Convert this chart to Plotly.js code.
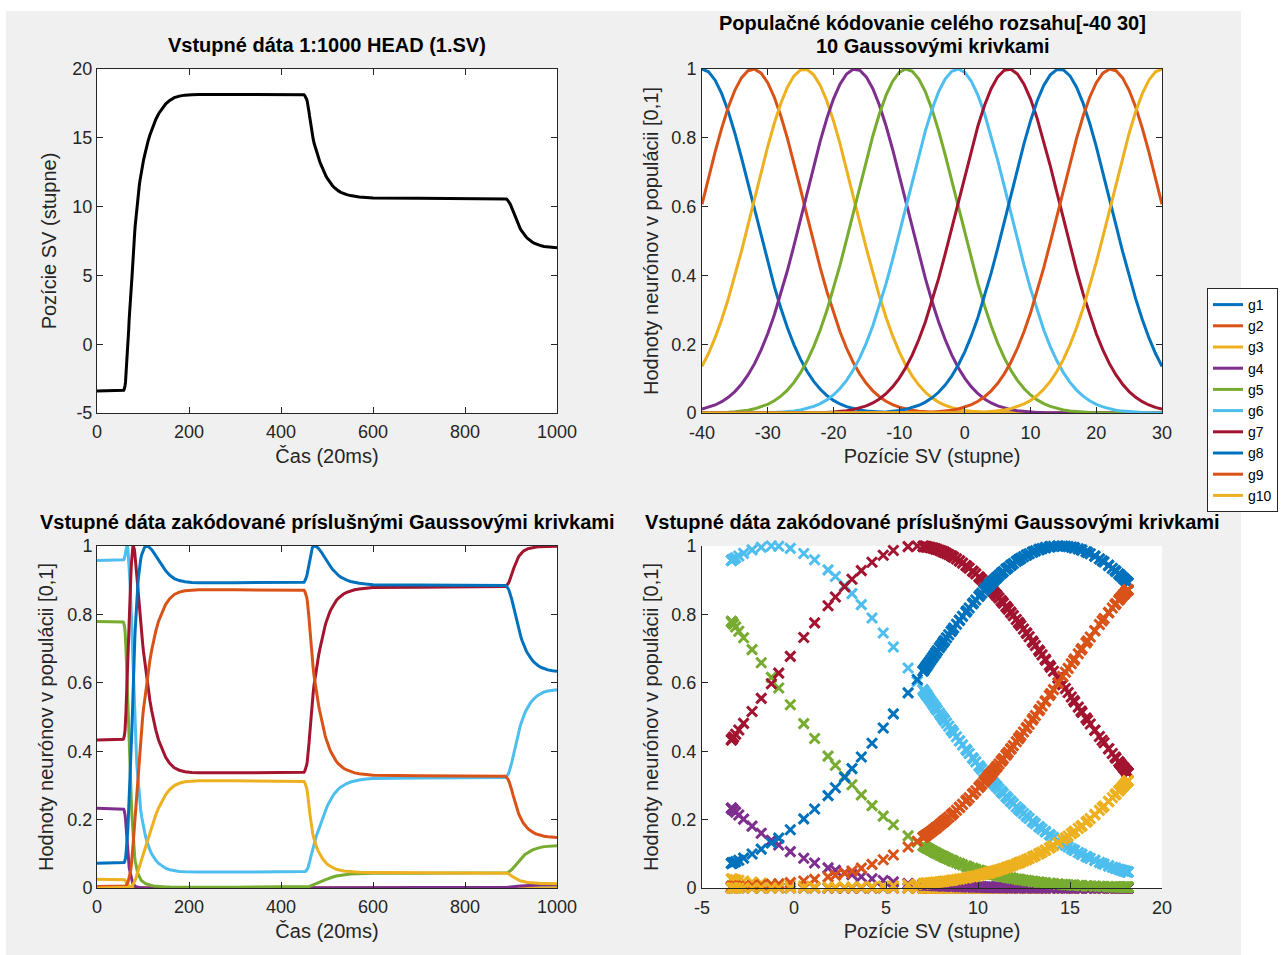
<!DOCTYPE html>
<html>
<head>
<meta charset="utf-8">
<script src="https://cdn.plot.ly/plotly-3.0.1.min.js"></script>
<style>
html,body{margin:0;padding:0;background:#ffffff;}
#chart{width:1287px;height:955px;}
</style>
</head>
<body>
<div id="chart"></div>
<script>
// ---- data ----
// head position signal (time in 20 ms samples, position in degrees)
const headTime = [0, 20, 40, 57, 58,
  59, 60, 61, 62, 63, 64, 65, 66, 67, 68, 69, 70, 71, 72, 73, 74, 75, 76, 77, 78, 79,
  80, 81, 82, 83, 84, 85, 86, 87, 88, 89, 90, 91, 92, 93,
  95, 97, 99, 101, 103, 105, 108, 111, 115, 119, 123, 128, 134, 141, 149, 158, 168, 179, 191, 206, 221, 300, 380, 448,
  450, 452, 454,
  455, 456, 457, 458, 459, 460, 461, 462, 463, 464, 465, 466, 467, 468, 469, 470,
  472, 474, 476, 478, 480, 482, 484, 486, 488, 490, 492, 494, 496, 498, 500,
  503, 506, 509, 512, 516, 520, 525, 530, 536, 543, 551, 560, 570, 585, 600, 700, 800, 886,
  888, 890, 892, 894, 896, 898, 900, 902, 904, 906, 908, 910, 912, 914, 916, 918, 920, 922, 924, 926, 928, 930,
  933, 936, 939, 942, 946, 950, 955, 960, 966, 972, 980, 990, 1000];
const headPosition = [-3.40, -3.39, -3.38, -3.37, -3.34,
  -3.28, -3.17, -3.0, -2.74, -2.28, -1.78, -1.23, -0.83, -0.2, 0.53, 1.12, 1.85, 2.25, 2.75, 3.15, 3.66, 4.24, 4.85, 5.4, 6.2, 6.7,
  7.2, 7.7, 8.15, 8.6, 9.0, 9.4, 9.75, 10.1, 10.4, 10.7, 11.0, 11.3, 11.55, 11.8,
  12.25, 12.65, 13.0, 13.35, 13.65, 13.95, 14.35, 14.75, 15.2, 15.6, 15.95, 16.35, 16.75, 17.1, 17.45, 17.72, 17.92, 18.03, 18.1, 18.13, 18.15, 18.15, 18.15, 18.15,
  18.12, 18.05, 17.95,
  17.87, 17.78, 17.65, 17.5, 17.3, 17.1, 16.85, 16.6, 16.35, 16.1, 15.87, 15.65, 15.45, 15.25, 15.07, 14.9,
  14.6, 14.35, 14.1, 13.88, 13.68, 13.48, 13.3, 13.12, 12.95, 12.78, 12.62, 12.47, 12.33, 12.2, 12.08,
  11.92, 11.77, 11.64, 11.52, 11.38, 11.26, 11.14, 11.04, 10.95, 10.87, 10.8, 10.74, 10.7, 10.66, 10.63, 10.61, 10.6, 10.6,
  10.58, 10.55, 10.5, 10.42, 10.32, 10.2, 10.05, 9.88, 9.7, 9.52, 9.34, 9.16, 8.99, 8.83, 8.68, 8.54, 8.41, 8.29, 8.18, 8.08, 7.99, 7.9,
  7.79, 7.69, 7.6, 7.52, 7.43, 7.35, 7.27, 7.21, 7.15, 7.1, 7.06, 7.03, 7.01];

// population code: 10 Gaussian tuning curves covering [-40 30]
const neuronNames = ['g1', 'g2', 'g3', 'g4', 'g5', 'g6', 'g7', 'g8', 'g9', 'g10'];
const neuronCenters = [-40, -32.22, -24.44, -16.67, -8.89, -1.11, 6.67, 14.44, 22.22, 30];
const neuronWidth = 7.78;
const tuningAxis = [-40, -39, -38, -37, -36, -35, -34, -33, -32, -31, -30, -29, -28, -27, -26, -25, -24, -23, -22, -21,
  -20, -19, -18, -17, -16, -15, -14, -13, -12, -11, -10, -9, -8, -7, -6, -5, -4, -3, -2, -1,
  0, 1, 2, 3, 4, 5, 6, 7, 8, 9, 10, 11, 12, 13, 14, 15, 16, 17, 18, 19, 20, 21, 22, 23, 24, 25, 26, 27, 28, 29, 30];

// tick values and labels
const timeTicks = [0, 200, 400, 600, 800, 1000];
const timeTickText = ['0', '200', '400', '600', '800', '1000'];
const headTicks = [-5, 0, 5, 10, 15, 20];
const headTickText = ['-5', '0', '5', '10', '15', '20'];
const rangeTicks = [-40, -30, -20, -10, 0, 10, 20, 30];
const rangeTickText = ['-40', '-30', '-20', '-10', '0', '10', '20', '30'];
const unitTicks = [0, 0.2, 0.4, 0.6, 0.8, 1];
const unitTickText = ['0', '0.2', '0.4', '0.6', '0.8', '1'];

// ---- styling ----
const neuronColors = ['#0072BD', '#D95319', '#EDB120', '#7E2F8E', '#77AC30', '#4DBEEE', '#A2142F', '#0072BD', '#D95319', '#EDB120'];
const W = 1287, H = 955;
const FONT = 'Liberation Sans, Arial, Helvetica, sans-serif';
const AX = '#262626';

function tuning(center, x) {
  const d = x - center;
  return Math.exp(-(d * d) / (2 * neuronWidth * neuronWidth));
}

const traces = [];
traces.push({
  x: headTime, y: headPosition, xaxis: 'x', yaxis: 'y', mode: 'lines',
  line: {color: '#000000', width: 3}, showlegend: false, hoverinfo: 'skip'
});
neuronCenters.forEach((c, i) => {
  traces.push({
    x: tuningAxis, y: tuningAxis.map(v => tuning(c, v)), xaxis: 'x2', yaxis: 'y2',
    mode: 'lines', name: neuronNames[i], line: {color: neuronColors[i], width: 3},
    showlegend: true
  });
});
neuronCenters.forEach((c, i) => {
  traces.push({
    x: headTime, y: headPosition.map(p => tuning(c, p)), xaxis: 'x3', yaxis: 'y3',
    mode: 'lines', name: neuronNames[i], line: {color: neuronColors[i], width: 3},
    showlegend: false
  });
});
neuronCenters.forEach((c, i) => {
  traces.push({
    x: headPosition, y: headPosition.map(p => tuning(c, p)), xaxis: 'x4', yaxis: 'y4',
    mode: 'markers', name: neuronNames[i], cliponaxis: false,
    marker: {symbol: 'x-thin', size: 10, color: neuronColors[i], line: {color: neuronColors[i], width: 3}},
    showlegend: false
  });
});

function ax(extra) {
  return Object.assign({
    showline: true, linecolor: AX, linewidth: 1, ticks: 'inside', ticklen: 6, tickwidth: 1, tickcolor: AX,
    showgrid: false, zeroline: false, mirror: 'ticks', fixedrange: true, tickmode: 'array',
    tickfont: {family: FONT, size: 18, color: AX}
  }, extra);
}
function ttl(text, standoff) {
  return {text: text, font: {family: FONT, size: 20, color: AX}, standoff: standoff};
}

const xL = [97 / W, 557 / W], xR = [702 / W, 1162 / W];
const yT = [1 - 413 / H, 1 - 69 / H], yB = [1 - 888 / H, 1 - 546 / H];

function title(text, xpx, ypx) {
  return {text: '<b>' + text + '</b>', x: xpx / W, y: 1 - ypx / H, xref: 'paper', yref: 'paper',
    xanchor: 'center', yanchor: 'middle', showarrow: false, font: {family: FONT, size: 20, color: '#000000'}};
}

const layout = {
  width: W, height: H, margin: {l: 0, r: 0, t: 0, b: 0},
  paper_bgcolor: '#f0f0f0', plot_bgcolor: '#ffffff',
  font: {family: FONT, size: 18, color: AX},
  showlegend: true,
  legend: {x: 1207 / W, y: 1 - 288 / H, xanchor: 'left', yanchor: 'top', bgcolor: '#ffffff',
    bordercolor: AX, borderwidth: 1, font: {family: FONT, size: 14, color: '#000000'}},
  xaxis: ax({domain: xL, anchor: 'y', range: [0, 1000], tickvals: timeTicks, ticktext: timeTickText, ticklabelstandoff: 2, title: ttl('Čas (20ms)', 8)}),
  yaxis: ax({domain: yT, anchor: 'x', range: [-5, 20], tickvals: headTicks, ticktext: headTickText, title: ttl('Pozície SV (stupne)', 10)}),
  xaxis2: ax({domain: xR, anchor: 'y2', range: [-40, 30], tickvals: rangeTicks, ticktext: rangeTickText, ticklabelstandoff: 3, title: ttl('Pozície SV (stupne)', 7)}),
  yaxis2: ax({domain: yT, anchor: 'x2', range: [0, 1], tickvals: unitTicks, ticktext: unitTickText, ticklabelstandoff: 1, title: ttl('Hodnoty neurónov v populácii [0,1]', 7)}),
  xaxis3: ax({domain: xL, anchor: 'y3', range: [0, 1000], tickvals: timeTicks, ticktext: timeTickText, ticklabelstandoff: 2, title: ttl('Čas (20ms)', 8)}),
  yaxis3: ax({domain: yB, anchor: 'x3', range: [0, 1], tickvals: unitTicks, ticktext: unitTickText, title: ttl('Hodnoty neurónov v populácii [0,1]', 8)}),
  xaxis4: ax({domain: xR, anchor: 'y4', range: [-5, 20], tickvals: headTicks, ticktext: headTickText, ticklabelstandoff: 3, mirror: false, title: ttl('Pozície SV (stupne)', 7)}),
  yaxis4: ax({domain: yB, anchor: 'x4', range: [0, 1], tickvals: unitTicks, ticktext: unitTickText, ticklabelstandoff: 1, mirror: false, title: ttl('Hodnoty neurónov v populácii [0,1]', 7)}),
  shapes: [
    {type: 'rect', xref: 'paper', yref: 'paper', x0: 0, x1: 1, y0: 1 - 11 / H, y1: 1, fillcolor: '#ffffff', line: {width: 0}, layer: 'below'},
    {type: 'rect', xref: 'paper', yref: 'paper', x0: 0, x1: 6 / W, y0: 0, y1: 1, fillcolor: '#ffffff', line: {width: 0}, layer: 'below'},
    {type: 'rect', xref: 'paper', yref: 'paper', x0: 1241 / W, x1: 1, y0: 0, y1: 1, fillcolor: '#ffffff', line: {width: 0}, layer: 'below'}
  ],
  annotations: [
    title('Vstupné dáta 1:1000 HEAD (1.SV)', 327, 44.7),
    title('Populačné kódovanie celého rozsahu[-40 30]', 932, 22.9),
    title('10 Gaussovými krivkami', 932, 45.7),
    title('Vstupné dáta zakódované príslušnými Gaussovými krivkami', 327, 521.7),
    title('Vstupné dáta zakódované príslušnými Gaussovými krivkami', 932, 521.7)
  ]
};

Plotly.newPlot('chart', traces, layout, {displayModeBar: false, staticPlot: true});
</script>
</body>
</html>
